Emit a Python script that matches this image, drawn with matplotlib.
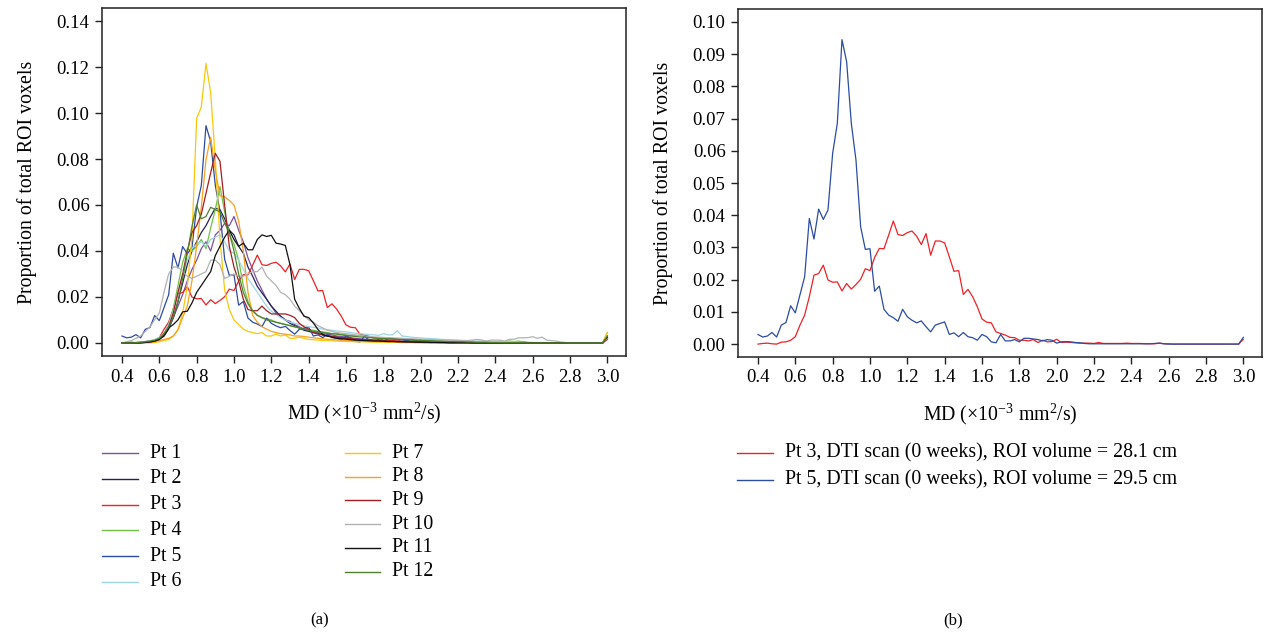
import numpy as np
import matplotlib

matplotlib.use("Agg")
import matplotlib.pyplot as plt
from matplotlib.lines import Line2D

plt.rcParams["font.family"] = ["Liberation Serif", "DejaVu Serif"]
plt.rcParams["mathtext.fontset"] = "custom"
plt.rcParams["mathtext.rm"] = "Liberation Serif"
plt.rcParams["mathtext.it"] = "Liberation Serif:italic"

# MD histogram bins, 0.4 .. 3.0 (x10^-3 mm^2/s), bin width 0.025
md_bins = np.linspace(0.4, 3.0, 105)

pt1 = [
    0, 0, 0, 0.0002, 0.0003, 0.0005, 0.0008, 0.0012, 0.002, 0.004,
    0.007, 0.011, 0.016, 0.021, 0.027, 0.032, 0.036, 0.041, 0.044, 0.040,
    0.047, 0.049, 0.052, 0.051, 0.055, 0.049, 0.044, 0.037, 0.032, 0.027,
    0.023, 0.019, 0.016, 0.013, 0.0115, 0.010, 0.0094, 0.008, 0.007, 0.006,
    0.0055, 0.005, 0.0045, 0.004, 0.0038, 0.0035, 0.003, 0.0028, 0.0025, 0.0022,
    0.002, 0.0018, 0.0016, 0.0015, 0.0013, 0.0012, 0.0011, 0.001, 0.0009, 0.0008,
    0.0008, 0.0007, 0.0006, 0.0006, 0.0005, 0.0005, 0.0004, 0.0004, 0.0003, 0.0003,
    0.0003, 0.0002, 0.0002, 0.0002, 0.0001, 0.0001, 0.0001, 0.0001, 0.0001, 0.0001,
    0.0001, 0.0001, 0.0001, 0.0001, 0.0001, 0, 0, 0, 0, 0,
    0, 0, 0, 0, 0, 0, 0, 0, 0, 0,
    0, 0, 0, 0, 0.003,
]
pt2 = [
    0, 0, 0, 0, 0.0002, 0.0004, 0.0007, 0.001, 0.0018, 0.003,
    0.006, 0.011, 0.018, 0.026, 0.034, 0.040, 0.044, 0.048, 0.051, 0.055,
    0.0586, 0.058, 0.054, 0.049, 0.047, 0.042, 0.039, 0.033, 0.029, 0.0246,
    0.0217, 0.019, 0.016, 0.0138, 0.0116, 0.010, 0.0085, 0.0075, 0.0065, 0.0055,
    0.005, 0.0045, 0.004, 0.0035, 0.003, 0.0028, 0.0025, 0.0022, 0.002, 0.0018,
    0.0015, 0.0014, 0.0012, 0.0011, 0.001, 0.0009, 0.0008, 0.0008, 0.0007, 0.0006,
    0.0005, 0.0005, 0.0004, 0.0004, 0.0003, 0.0003, 0.0002, 0.0002, 0.0002, 0.0001,
    0.0001, 0.0001, 0.0001, 0.0001, 0, 0, 0, 0, 0, 0,
    0, 0, 0, 0, 0, 0, 0, 0, 0, 0,
    0, 0, 0, 0, 0, 0, 0, 0, 0, 0,
    0, 0, 0, 0, 0.002,
]
pt3 = [
    0.0000, 0.0002, 0.0003, 0.0001, 0.0000, 0.0006, 0.0007, 0.0012, 0.0023, 0.0059,
    0.0090, 0.0147, 0.0214, 0.0219, 0.0245, 0.0199, 0.0192, 0.0193, 0.0165, 0.0188,
    0.0171, 0.0185, 0.0201, 0.0234, 0.0228, 0.0269, 0.0297, 0.0296, 0.0338, 0.0382,
    0.0340, 0.0337, 0.0346, 0.0351, 0.0335, 0.0309, 0.0343, 0.0276, 0.0320, 0.0320,
    0.0314, 0.0271, 0.0226, 0.0228, 0.0154, 0.0170, 0.0147, 0.0116, 0.0078, 0.0068,
    0.0066, 0.0038, 0.0033, 0.0028, 0.0021, 0.0020, 0.0012, 0.0012, 0.0010, 0.0014,
    0.0005, 0.0012, 0.0007, 0.0008, 0.0015, 0.0005, 0.0006, 0.0005, 0.0004, 0.0003,
    0.0003, 0.0003, 0.0002, 0.0005, 0.0002, 0.0002, 0.0002, 0.0002, 0.0002, 0.0003,
    0.0002, 0.0002, 0.0002, 0.0001, 0.0001, 0.0001, 0.0003, 0.0001, 0.0001, 0,
    0, 0, 0, 0, 0, 0, 0, 0, 0, 0,
    0, 0, 0, 0, 0.0015,
]
pt4 = [
    0, 0, 0, 0.0001, 0.0003, 0.0005, 0.0008, 0.0012, 0.002, 0.004,
    0.008, 0.015, 0.025, 0.035, 0.041, 0.040, 0.042, 0.045, 0.041, 0.050,
    0.058, 0.068, 0.057, 0.047, 0.043, 0.036, 0.025, 0.018, 0.014, 0.012,
    0.011, 0.0105, 0.010, 0.009, 0.0085, 0.008, 0.0075, 0.007, 0.0065, 0.006,
    0.0058, 0.0055, 0.005, 0.0048, 0.0045, 0.004, 0.0042, 0.0038, 0.0035, 0.0032,
    0.003, 0.0035, 0.0028, 0.0025, 0.0022, 0.002, 0.0022, 0.0018, 0.0016, 0.0015,
    0.0014, 0.0013, 0.0012, 0.0011, 0.001, 0.0009, 0.0008, 0.0008, 0.0007, 0.0006,
    0.0006, 0.0005, 0.0005, 0.0004, 0.0004, 0.0004, 0.0003, 0.0003, 0.0003, 0.0003,
    0.0002, 0.0002, 0.0004, 0.0008, 0.0006, 0.0008, 0.0004, 0.0002, 0.0001, 0.0001,
    0, 0, 0, 0, 0, 0, 0, 0, 0, 0,
    0, 0, 0, 0, 0.0045,
]
pt5 = [
    0.0030, 0.0022, 0.0025, 0.0036, 0.0022, 0.0059, 0.0067, 0.0119, 0.0097, 0.0153,
    0.0209, 0.0390, 0.0326, 0.0419, 0.0387, 0.0416, 0.0592, 0.0685, 0.0945, 0.0876,
    0.0685, 0.0571, 0.0364, 0.0294, 0.0296, 0.0164, 0.0180, 0.0108, 0.0090, 0.0082,
    0.0071, 0.0108, 0.0085, 0.0074, 0.0066, 0.0072, 0.0054, 0.0038, 0.0059, 0.0064,
    0.0069, 0.0030, 0.0035, 0.0023, 0.0036, 0.0023, 0.0020, 0.0012, 0.0030, 0.0023,
    0.0007, 0.0004, 0.0030, 0.0010, 0.0010, 0.0014, 0.0007, 0.0018, 0.0018, 0.0016,
    0.0014, 0.0010, 0.0014, 0.0012, 0.0003, 0.0007, 0.0008, 0.0007, 0.0005, 0.0004,
    0.0002, 0.0001, 0.0001, 0.0001, 0.0001, 0.0001, 0.0001, 0.0001, 0.0001, 0.0001,
    0.0001, 0.0001, 0.0001, 0.0001, 0.0001, 0.0002, 0.0003, 0.0001, 0, 0,
    0, 0, 0, 0, 0, 0, 0, 0, 0, 0,
    0, 0, 0, 0, 0.0021,
]
pt6 = [
    0, 0, 0, 0.0001, 0.0003, 0.0006, 0.001, 0.0015, 0.0025, 0.004,
    0.008, 0.014, 0.022, 0.030, 0.036, 0.041, 0.043, 0.044, 0.042, 0.045,
    0.046, 0.047, 0.044, 0.040, 0.039, 0.036, 0.032, 0.028, 0.025, 0.022,
    0.019, 0.016, 0.0138, 0.0123, 0.011, 0.010, 0.009, 0.0085, 0.008, 0.0075,
    0.007, 0.0068, 0.0065, 0.006, 0.0058, 0.0055, 0.0052, 0.005, 0.0048, 0.0045,
    0.0042, 0.004, 0.0038, 0.0036, 0.0035, 0.0033, 0.004, 0.0035, 0.0035, 0.0053,
    0.003, 0.0028, 0.0025, 0.0023, 0.0022, 0.002, 0.0019, 0.0018, 0.0016, 0.0015,
    0.0014, 0.0013, 0.0012, 0.0011, 0.001, 0.0009, 0.0008, 0.0008, 0.0007, 0.0006,
    0.0006, 0.0005, 0.0005, 0.0004, 0.0004, 0.0003, 0.0003, 0.0002, 0.0002, 0.0001,
    0, 0, 0, 0, 0, 0, 0, 0, 0, 0,
    0, 0, 0, 0, 0.0025,
]
pt7 = [
    0, 0, 0, 0, 0, 0, 0, 0.0002, 0.0005, 0.001,
    0.0015, 0.003, 0.0058, 0.013, 0.0245, 0.046, 0.0977, 0.1026, 0.1216, 0.109,
    0.080, 0.045, 0.023, 0.0145, 0.010, 0.008, 0.006, 0.005, 0.0045, 0.004,
    0.0045, 0.003, 0.003, 0.0038, 0.003, 0.0035, 0.002, 0.002, 0.0025, 0.002,
    0.0015, 0.0014, 0.0012, 0.0011, 0.001, 0.0009, 0.0008, 0.0007, 0.0006, 0.0006,
    0.0005, 0.0005, 0.0004, 0.0004, 0.0003, 0.0003, 0.0003, 0.0002, 0.0002, 0.0002,
    0.0001, 0.0001, 0.0001, 0.0001, 0.0001, 0, 0, 0, 0, 0,
    0, 0, 0, 0, 0, 0, 0, 0, 0, 0,
    0, 0, 0, 0, 0, 0, 0, 0, 0, 0,
    0, 0, 0, 0, 0, 0, 0, 0, 0, 0,
    0, 0, 0, 0, 0.0045,
]
pt8 = [
    0, 0, 0, 0, 0, 0.0002, 0.0004, 0.0007, 0.001, 0.0015,
    0.002, 0.003, 0.0057, 0.011, 0.016, 0.027, 0.042, 0.059, 0.0796, 0.0895,
    0.075, 0.064, 0.0635, 0.062, 0.060, 0.053, 0.040, 0.022, 0.012, 0.009,
    0.007, 0.006, 0.005, 0.0045, 0.004, 0.0038, 0.0035, 0.003, 0.003, 0.0028,
    0.0025, 0.0022, 0.002, 0.0018, 0.0016, 0.0015, 0.0013, 0.0012, 0.0011, 0.001,
    0.0009, 0.0008, 0.0007, 0.0006, 0.0006, 0.0005, 0.0005, 0.0004, 0.0004, 0.0003,
    0.0003, 0.0002, 0.0002, 0.0001, 0.0001, 0, 0, 0, 0, 0,
    0, 0, 0, 0, 0, 0, 0, 0, 0, 0,
    0, 0, 0, 0, 0, 0, 0, 0, 0, 0,
    0, 0, 0, 0, 0, 0, 0, 0, 0, 0,
    0, 0, 0, 0, 0.003,
]
pt9 = [
    0, 0, 0, 0, 0.0001, 0.0002, 0.0004, 0.0007, 0.0015, 0.0036,
    0.007, 0.013, 0.022, 0.030, 0.040, 0.048, 0.051, 0.056, 0.065, 0.074,
    0.0825, 0.079, 0.060, 0.042, 0.033, 0.027, 0.019, 0.0145, 0.014, 0.014,
    0.016, 0.014, 0.0126, 0.0126, 0.0126, 0.0126, 0.012, 0.011, 0.0085, 0.007,
    0.006, 0.0045, 0.004, 0.0035, 0.003, 0.0028, 0.0025, 0.0022, 0.002, 0.0018,
    0.0016, 0.0014, 0.0013, 0.0012, 0.0011, 0.001, 0.0009, 0.0008, 0.0007, 0.0006,
    0.0005, 0.0005, 0.0004, 0.0004, 0.0003, 0.0003, 0.0002, 0.0002, 0.0001, 0.0001,
    0, 0, 0, 0, 0, 0, 0, 0, 0, 0,
    0, 0, 0, 0, 0, 0, 0, 0, 0, 0,
    0, 0, 0, 0, 0, 0, 0, 0, 0, 0,
    0, 0, 0, 0, 0.002,
]
pt10 = [
    0, 0.0005, 0.001, 0.002, 0.003, 0.005, 0.007, 0.010, 0.013, 0.022,
    0.030, 0.033, 0.033, 0.031, 0.029, 0.028, 0.029, 0.030, 0.031, 0.036,
    0.036, 0.034, 0.028, 0.029, 0.030, 0.029, 0.029, 0.030, 0.031, 0.031,
    0.033, 0.029, 0.027, 0.025, 0.022, 0.021, 0.019, 0.016, 0.014, 0.012,
    0.010, 0.009, 0.0075, 0.0065, 0.0055, 0.005, 0.0045, 0.0042, 0.004, 0.0038,
    0.0035, 0.0032, 0.003, 0.0028, 0.0026, 0.0025, 0.0024, 0.0023, 0.0022, 0.0021,
    0.002, 0.0019, 0.0018, 0.0017, 0.0016, 0.0015, 0.0015, 0.0014, 0.0013, 0.0012,
    0.0012, 0.0011, 0.0011, 0.001, 0.001, 0.0012, 0.0015, 0.0013, 0.0008, 0.0012,
    0.0012, 0.0012, 0.0008, 0.0015, 0.0016, 0.0022, 0.0022, 0.0023, 0.0027, 0.002,
    0.0025, 0.0012, 0.001, 0.0008, 0.0004, 0.0002, 0, 0, 0, 0,
    0, 0, 0, 0, 0.002,
]
pt11 = [
    0, 0, 0, 0, 0, 0.0002, 0.0004, 0.0008, 0.0015, 0.003,
    0.0065, 0.008, 0.010, 0.0135, 0.0138, 0.0174, 0.022, 0.025, 0.028, 0.031,
    0.038, 0.042, 0.046, 0.049, 0.045, 0.042, 0.0434, 0.0405, 0.0405, 0.045,
    0.047, 0.0463, 0.0468, 0.0434, 0.043, 0.0424, 0.034, 0.019, 0.015, 0.0116,
    0.011, 0.0087, 0.0058, 0.0036, 0.003, 0.0025, 0.002, 0.0018, 0.0016, 0.0014,
    0.0012, 0.0011, 0.001, 0.0009, 0.0008, 0.0008, 0.0007, 0.0006, 0.0006, 0.0005,
    0.0005, 0.0004, 0.0004, 0.0003, 0.0003, 0.0003, 0.0002, 0.0002, 0.0002, 0.0002,
    0.0001, 0.0001, 0.0001, 0.0001, 0.0001, 0, 0, 0, 0, 0,
    0, 0, 0, 0, 0, 0, 0, 0, 0, 0,
    0, 0, 0, 0, 0, 0, 0, 0, 0, 0,
    0, 0, 0, 0, 0.0025,
]
pt12 = [
    0, 0, 0, 0.0001, 0.0003, 0.0005, 0.0008, 0.0012, 0.002, 0.004,
    0.007, 0.011, 0.018, 0.028, 0.039, 0.0506, 0.060, 0.054, 0.055, 0.059,
    0.058, 0.057, 0.052, 0.048, 0.040, 0.030, 0.022, 0.017, 0.014, 0.012,
    0.011, 0.010, 0.0095, 0.009, 0.0085, 0.008, 0.0075, 0.007, 0.0065, 0.006,
    0.0055, 0.005, 0.0048, 0.0045, 0.0042, 0.004, 0.0038, 0.0035, 0.0032, 0.003,
    0.0028, 0.0026, 0.0025, 0.0023, 0.0022, 0.002, 0.0019, 0.0018, 0.0017, 0.0016,
    0.0015, 0.0014, 0.0013, 0.0012, 0.0011, 0.001, 0.0009, 0.0008, 0.0008, 0.0007,
    0.0006, 0.0006, 0.0005, 0.0005, 0.0004, 0.0004, 0.0003, 0.0003, 0.0003, 0.0002,
    0.0002, 0.0002, 0.0001, 0.0001, 0.0001, 0.0001, 0.0001, 0, 0, 0,
    0, 0, 0, 0, 0, 0, 0, 0, 0, 0,
    0, 0, 0, 0, 0.003,
]

patients = ["Pt 1", "Pt 2", "Pt 3", "Pt 4", "Pt 5", "Pt 6",
            "Pt 7", "Pt 8", "Pt 9", "Pt 10", "Pt 11", "Pt 12"]
series = [pt1, pt2, pt3, pt4, pt5, pt6, pt7, pt8, pt9, pt10, pt11, pt12]
colors = ["#7d4f9f", "#22235e", "#ec2227", "#72c044", "#2b4ca2", "#9ed4e6",
          "#f8c80c", "#f7a11d", "#a01e22", "#b2b2b2", "#111111", "#50802c"]

scan_labels = ["Pt 3, DTI scan (0 weeks), ROI volume = 28.1 cm",
               "Pt 5, DTI scan (0 weeks), ROI volume = 29.5 cm"]

W, H = 1266, 636
FS = 13.5
LFS = 14.3
MD_LABEL = r"MD ($\times$10$^{-3}$ mm$^{2}$/s)"


def px(x, y):
    return x / W, 1 - y / H


def style_axes(ax, ylim, yticks, yfmt):
    ax.set_xlim(0.293, 3.10)
    ax.set_ylim(*ylim)
    ax.set_xticks(np.arange(0.4, 3.01, 0.2))
    ax.set_xticklabels([f"{t:.1f}" for t in np.arange(0.4, 3.01, 0.2)])
    ax.set_yticks(yticks)
    ax.set_yticklabels([yfmt.format(t) for t in yticks])
    ax.tick_params(direction="out", length=5, width=1, labelsize=FS,
                   top=False, right=False, pad=4, color="#222222")
    for s in ax.spines.values():
        s.set_linewidth(1.1)
        s.set_color("#222222")
    ax.set_xlabel(MD_LABEL, fontsize=LFS, labelpad=11)
    ax.set_ylabel("Proportion of total ROI voxels", fontsize=LFS, labelpad=14)


fig = plt.figure(figsize=(W / 100, H / 100), dpi=100)
ax_a = fig.add_axes([102 / W, 1 - 356 / H, 524 / W, 348 / H])
ax_b = fig.add_axes([738 / W, 1 - 357 / H, 524 / W, 348 / H])

for vals, c in zip(series, colors):
    ax_a.plot(md_bins, vals, color=c, lw=0.9)
style_axes(ax_a, (-0.0057, 0.1457), np.arange(0, 0.141, 0.02), "{:.2f}")

ax_b.plot(md_bins, pt3, color="#ec2227", lw=0.9)
ax_b.plot(md_bins, pt5, color="#2b4ca2", lw=0.9)
style_axes(ax_b, (-0.004, 0.104), np.arange(0, 0.1001, 0.01), "{:.2f}")

# legend (a): two columns drawn by hand to keep the original row spacing
for i in range(6):
    y = 453 + 25.8 * i
    fig.add_artist(Line2D([102 / W, 138 / W], [1 - y / H] * 2,
                          color=colors[i], lw=1.0))
    fig.text(*px(150, y), patients[i], fontsize=LFS, va="center")
for i in range(6):
    y = 453 + 23.7 * i
    fig.add_artist(Line2D([345 / W, 380 / W], [1 - y / H] * 2,
                          color=colors[6 + i], lw=1.0))
    fig.text(*px(392, y), patients[6 + i], fontsize=LFS, va="center")

# legend (b)
for i, (lab, c) in enumerate(zip(scan_labels, ["#ec2227", "#2b4ca2"])):
    y = 453 + 27 * i
    fig.add_artist(Line2D([737 / W, 773 / W], [1 - y / H] * 2, color=c, lw=1.0))
    fig.text(*px(785, y), lab, fontsize=LFS, va="center")

fig.text(*px(320, 620), "(a)", fontsize=12, ha="center", va="center")
fig.text(*px(953, 620), "(b)", fontsize=12, ha="center", va="center")

fig.savefig("out.png", dpi=100)
